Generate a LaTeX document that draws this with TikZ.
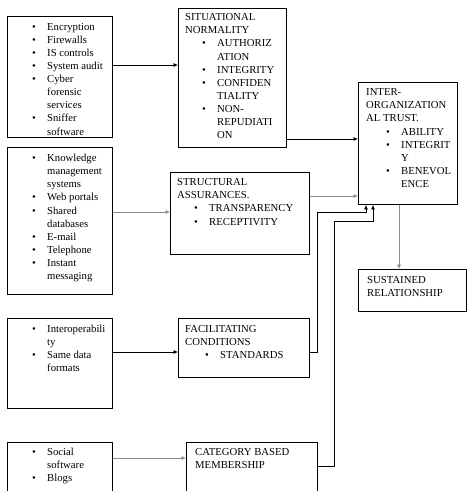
\documentclass[tikz,border=0pt]{standalone}
\usepackage{fontspec}
\setmainfont{Liberation Serif}
\usetikzlibrary{arrows.meta}
\newcommand{\bl}{\hspace*{17pt}\makebox[15pt][l]{\textbullet}}
\newcommand{\ct}{\hspace*{32pt}}
\tikzset{
  box/.style={draw, line width=0.9pt, inner sep=0pt, anchor=north west},
  txt/.style={anchor=north west, inner sep=0pt, align=left},
  conn/.style={->, line width=0.7pt},
  faint/.style={conn, black!45},
}
\begin{document}
\begin{tikzpicture}[x=1pt, y=-1pt, >={Latex[length=4.5pt,width=4pt]},
    font=\fontsize{10.7}{13.1}\selectfont]
  \useasboundingbox (0,0) rectangle (474,491);
  \clip (0,0) rectangle (474,491);
  % left column: tools
  \node[box, minimum width=105pt, minimum height=121pt] (tools) at (7,16) {};
  \node[box, minimum width=105pt, minimum height=147pt] (media) at (7,147) {};
  \node[box, minimum width=105pt, minimum height=90pt] (interop) at (7,318) {};
  \node[box, minimum width=105pt, minimum height=63pt] (social) at (7,442) {};
  % middle column: antecedents
  \node[box, minimum width=108pt, minimum height=139pt] (normality) at (178,8) {};
  \node[box, minimum width=139pt, minimum height=82pt] (assurance) at (170,172) {};
  \node[box, minimum width=131pt, minimum height=59pt] (facilitate) at (178,318) {};
  \node[box, minimum width=131pt, minimum height=63pt] (category) at (186,442) {};
  % right column
  \node[box, minimum width=99pt, minimum height=122pt] (trust) at (358,82) {};
  \node[box, minimum width=108pt, minimum height=42pt] (sustain) at (358,269) {};

  % texts
  \node[txt] (tools-t) at ([xshift=8pt, yshift=-7pt]tools.north west)
    {\bl Encryption\\ \bl Firewalls\\ \bl IS controls\\ \bl System audit\\
     \bl Cyber\\ \ct forensic\\ \ct services\\ \bl Sniffer\\ \ct software};
  \node[txt] (media-t) at ([xshift=8pt, yshift=-7pt]media.north west)
    {\bl Knowledge\\ \ct management\\ \ct systems\\ \bl Web portals\\
     \bl Shared\\ \ct databases\\ \bl E-mail\\ \bl Telephone\\
     \bl Instant\\ \ct messaging};
  \node[txt] (interop-t) at ([xshift=8pt, yshift=-7pt]interop.north west)
    {\bl Interoperabili\\ \ct ty\\ \bl Same data\\ \ct formats};
  \node[txt] (social-t) at ([xshift=8pt, yshift=-5.5pt]social.north west)
    {\bl Social\\ \ct software\\ \bl Blogs};
  \node[txt] (normality-t) at ([xshift=7pt, yshift=-5.5pt]normality.north west)
    {SITUATIONAL\\ NORMALITY\\ \bl AUTHORIZ\\ \ct ATION\\ \bl INTEGRITY\\
     \bl CONFIDEN\\ \ct TIALITY\\ \bl NON-\\ \ct REPUDIATI\\ \ct ON};
  \node[txt] (assurance-t) at ([xshift=7pt, yshift=-6.5pt]assurance.north west)
    {STRUCTURAL\\ ASSURANCES.\\ \bl TRANSPARENCY\\ \bl RECEPTIVITY};
  \node[txt] (facilitate-t) at ([xshift=7pt, yshift=-7pt]facilitate.north west)
    {FACILITATING\\ CONDITIONS\\ \hspace*{3pt}\bl STANDARDS};
  \node[txt] (category-t) at ([xshift=9pt, yshift=-6.5pt]category.north west)
    {CATEGORY BASED\\ MEMBERSHIP};
  \node[txt] (trust-t) at ([xshift=8pt, yshift=-6.5pt]trust.north west)
    {INTER-\\ ORGANIZATION\\ AL TRUST.\\ \hspace*{3pt}\bl ABILITY\\
     \hspace*{3pt}\bl INTEGRIT\\ \hspace*{35pt}Y\\ \hspace*{3pt}\bl BENEVOL\\
     \hspace*{35pt}ENCE};
  \node[txt] (sustain-t) at ([xshift=9pt, yshift=-7pt]sustain.north west)
    {SUSTAINED\\ RELATIONSHIP};

  % connectors
  \draw[conn] (tools.east |- 0,65) -- (normality.west |- 0,65);
  \draw[conn] (normality.east |- 0,139) -- (trust.west |- 0,139);
  \draw[faint] (media.east |- 0,212) -- (assurance.west |- 0,212);
  \draw[faint] (assurance.east |- 0,196) -- (trust.west |- 0,196);
  \draw[conn] (interop.east |- 0,352) -- (facilitate.west |- 0,352);
  \draw[conn] (facilitate.east |- 0,352) -- (317,352) |- (366,212) -- (trust.south -| 366,0);
  \draw[faint] (social.east |- 0,458) -- (category.west |- 0,458);
  \draw[conn] (category.east |- 0,466) -- (334,466) |- (373,221) -- (trust.south -| 373,0);
  \draw[faint] (trust.south -| 399,0) -- (sustain.north -| 399,0);
\end{tikzpicture}
\end{document}
